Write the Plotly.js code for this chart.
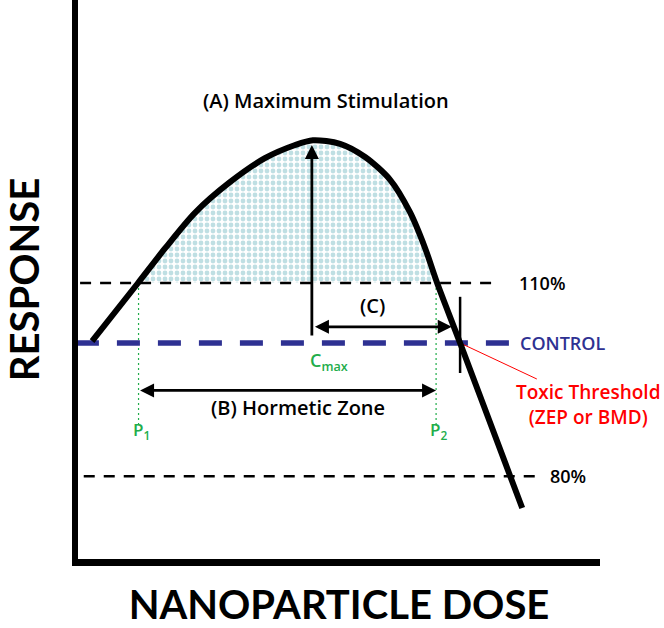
<!DOCTYPE html>
<html>
<head>
<meta charset="utf-8">
<script src="https://cdn.plot.ly/plotly-3.0.1.min.js"></script>
<style>html,body{margin:0;padding:0;background:#fff;}#chart{width:664px;height:628px;}</style>
</head>
<body>
<div id="chart"></div>
<script>
// Dose-response (hormesis) curve
const dose     = [2.7, 11.5, 16.7, 22.4, 29.1, 35.8, 41.6, 45.0, 50.2, 55.0, 59.8, 63.6, 66.5, 68.8, 73.2, 82.8, 85.1];
const response = [100.3, 110, 115.8, 121.7, 126.8, 130.8, 133.0, 133.8, 133.2, 131.0, 127.2, 121.8, 115.8, 110, 100, 77.8, 72.5];

// Reference levels
const controlLevel = 100;
const upperLevel = 110;   // 110%
const lowerLevel = 77.8;  // 80%
const controlExtent = [-0.4, 82.8];
const upperExtent = [0.4, 80.5];
const lowerExtent = [1.1, 87.9];

// Key doses
const P1 = 11.6, P2 = 68.6, Cmax = 44.8, toxicThreshold = 73.2;
const peakResponse = 133.0;
const zoneBottom = 86.3;
const cArrowY = 102.7, bArrowY = 92.1;
const cArrowEnd = 71.6;
const tickSpan = [95.0, 107.7];

const green = '#22ad4b', blue = '#2e3192', red = '#ff0000';
const F = '"Open Sans", Lato, sans-serif';
const FT = 'Lato, "Open Sans", sans-serif';

// Fill polygon between curve and 110% line (P1..P2)
const fx = dose.slice(1, 14), fy = response.slice(1, 14);

const traces = [
  {x: fx, y: fy, mode: 'lines', fill: 'toself', line: {width: 0, shape: 'spline', smoothing: 0.8},
   fillcolor: 'rgba(0,0,0,0)',
   fillpattern: {shape: '.', fgcolor: '#bfdfe3', bgcolor: '#ffffff', size: 6, solidity: 0.5},
   hoverinfo: 'skip'},
  {x: upperExtent, y: [upperLevel, upperLevel], mode: 'lines', line: {color: '#000', width: 2.5, dash: '11px,9px'}},
  {x: lowerExtent, y: [lowerLevel, lowerLevel], mode: 'lines', line: {color: '#000', width: 2.5, dash: '11px,9px'}},
  {x: [P1, P1], y: [upperLevel, zoneBottom], mode: 'lines', line: {color: green, width: 1.2, dash: '2px,3px'}},
  {x: [P2, P2], y: [upperLevel, zoneBottom], mode: 'lines', line: {color: green, width: 1.2, dash: '2px,3px'}},
  {x: controlExtent, y: [controlLevel, controlLevel], mode: 'lines', line: {color: blue, width: 5.5, dash: '23px,18px'}},
  {x: [toxicThreshold, 87.9], y: [controlLevel, 94.0], mode: 'lines', line: {color: red, width: 1}},
  {x: [toxicThreshold, toxicThreshold], y: tickSpan, mode: 'lines', line: {color: '#000', width: 2.5}},
  {x: dose, y: response, mode: 'lines', line: {color: '#000', width: 6, shape: 'spline', smoothing: 0.8}}
];

function arrow(x, y, ax, ay, both) {
  return {x: x, y: y, ax: ax, ay: ay, xref: 'x', yref: 'y', axref: 'x', ayref: 'y',
    text: '', showarrow: true, arrowhead: 2, startarrowhead: 2, arrowsize: 1, startarrowsize: 1,
    arrowwidth: 2.8, arrowcolor: '#000', arrowside: both ? 'end+start' : 'end', standoff: 0, startstandoff: 0};
}
function label(x, y, text, opts) {
  return Object.assign({x: x, y: y, xref: 'x', yref: 'y', text: text, showarrow: false,
    font: {family: F, size: 20, color: '#000', weight: 600}, xanchor: 'center', yanchor: 'middle'}, opts || {});
}

const annotations = [
  arrow(Cmax, peakResponse, Cmax, 101.0, false),
  arrow(cArrowEnd, cArrowY, Cmax + 0.3, cArrowY, true),
  arrow(P2, bArrowY, P1, bArrowY, true),
  label(47.5, 140.5, '(A) Maximum Stimulation'),
  label(56.5, 106.3, '(C)'),
  label(42.1, 89.2, '(B) Hormetic Zone'),
  label(84.1, upperLevel, '110%', {xanchor: 'left', font: {family: F, size: 18, color: '#000', weight: 600}}),
  label(84.3, controlLevel, 'CONTROL', {xanchor: 'left', font: {family: F, size: 18, color: blue, weight: 600}}),
  label(90.0, lowerLevel, '80%', {xanchor: 'left', font: {family: F, size: 18, color: '#000', weight: 600}}),
  label(97.7, 89.75, 'Toxic Threshold<br>(ZEP or BMD)', {font: {family: F, size: 19, color: red, weight: 600}}),
  label(44.0, 97.0, 'C<sub>max</sub>', {xanchor: 'left', font: {family: F, size: 18, color: green, weight: 600}}),
  label(12.1, 85.5, 'P<sub>1</sub>', {font: {family: F, size: 17, color: green, weight: 600}}),
  label(69.0, 85.5, 'P<sub>2</sub>', {font: {family: F, size: 17, color: green, weight: 600}})
];

const layout = {
  width: 664, height: 628,
  margin: {l: 78, r: 64, t: 0, b: 69, pad: 0},
  paper_bgcolor: '#fff', plot_bgcolor: '#fff',
  showlegend: false,
  xaxis: {range: [0, 100], showgrid: false, zeroline: false, showticklabels: false, ticks: '',
    showline: true, linecolor: '#000', linewidth: 7, fixedrange: true,
    title: {text: 'NANOPARTICLE DOSE', font: {family: FT, size: 40, color: '#000', weight: 700}, standoff: 36}},
  yaxis: {range: [64.0, 157.17], showgrid: false, zeroline: false, showticklabels: false, ticks: '',
    showline: true, linecolor: '#000', linewidth: 6, fixedrange: true,
    title: {text: 'RESPONSE', font: {family: FT, size: 40, color: '#000', weight: 700}, standoff: 30}},
  annotations: annotations
};

Plotly.newPlot('chart', traces, layout, {displayModeBar: false, staticPlot: true});
</script>
</body>
</html>
